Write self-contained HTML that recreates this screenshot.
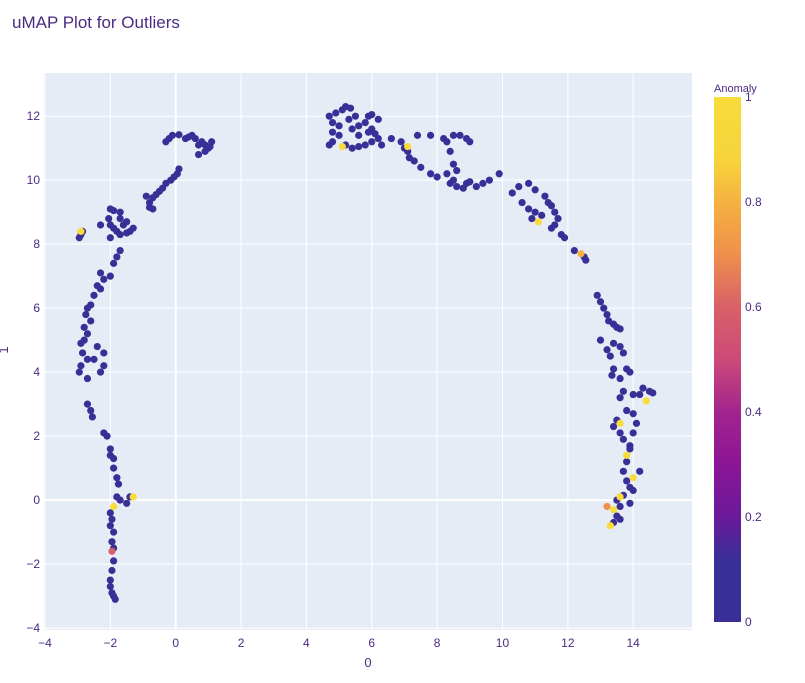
<!DOCTYPE html>
<html><head><meta charset="utf-8"><style>
body{margin:0;background:#fff;}
svg text{font-family:"Liberation Sans",sans-serif;fill:#4b2a82;}
</style></head><body>
<svg id="chart" width="805" height="678" xmlns="http://www.w3.org/2000/svg">
<defs>
<linearGradient id="plasma" x1="0" y1="1" x2="0" y2="0">
<stop offset="0" stop-color="#3a2f97"/><stop offset="0.12" stop-color="#3a2f97"/>
<stop offset="0.2" stop-color="#6a1a9a"/><stop offset="0.3" stop-color="#8b1596"/>
<stop offset="0.4" stop-color="#a3248e"/><stop offset="0.5" stop-color="#cc4a78"/>
<stop offset="0.6" stop-color="#d96068"/><stop offset="0.7" stop-color="#ef8f4c"/>
<stop offset="0.8" stop-color="#f5b240"/><stop offset="0.88" stop-color="#f6d43a"/>
<stop offset="1" stop-color="#f7dc3a"/>
</linearGradient>
</defs>
<text x="12" y="28" font-size="17">uMAP Plot for Outliers</text>
<rect x="44" y="73" width="648" height="557" fill="#e5ecf6"/>
<g id="grid"></g>
<g id="pts"></g>
<g id="ticks"></g>
<text x="368" y="667" font-size="13" text-anchor="middle">0</text>
<text x="8" y="350" font-size="13" text-anchor="middle" transform="rotate(-90 8 350)">1</text>
<text x="714" y="92" font-size="11">Anomaly</text>
<rect x="714" y="97" width="27" height="525" fill="url(#plasma)"/>
<g id="cbticks"></g>
</svg>
<script>
const xTicks=[-4,-2,0,2,4,6,8,10,12,14];
const yTicks=[-4,-2,0,2,4,6,8,10,12];
const cbTicks=[0,0.2,0.4,0.6,0.8,1];
const ptsX=[0.3,0.5,0.4,-0.3,-0.2,-0.1,0.1,0.6,0.7,0.8,0.9,1.0,1.1,0.9,0.7,1.05,0.1,0.05,-0.05,-0.15,-0.3,-0.4,-0.5,-0.6,-0.7,-0.8,-0.8,-0.9,-0.7,
-2.9,-2.85,-2.95,-2.0,-1.9,-1.7,-2.05,-2.0,-1.9,-1.8,-1.7,-1.5,-1.4,-1.3,-1.6,-1.5,-2.3,-2.0,-1.7,
-1.7,-1.8,-1.9,-2.0,-2.2,-2.3,-2.4,-2.3,-2.5,-2.6,-2.7,-2.75,-2.6,-2.8,-2.7,-2.8,-2.9,-2.85,-2.7,-2.9,-2.95,-2.7,-2.5,-2.4,-2.2,-2.2,-2.3,
-2.7,-2.6,-2.55,-2.2,-2.1,-2.0,-2.0,-1.9,-1.9,-1.8,-1.75,
-1.8,-1.7,-1.4,-1.5,-2.0,-1.95,-2.0,-1.9,-1.95,-1.9,-1.9,-1.95,-2.0,-2.0,-1.95,-1.9,-1.85,
4.7,4.8,4.9,5.1,5.2,5.35,5.5,5.3,5.0,5.4,5.6,5.8,5.9,6.0,6.2,5.6,5.9,6.1,4.8,5.0,4.7,4.8,5.2,5.4,5.6,5.8,6.0,6.2,6.0,6.3,6.6,6.9,7.0,7.1,7.15,7.3,7.5,7.8,8.0,7.4,7.8,8.2,8.3,8.5,8.7,8.9,9.0,8.4,8.5,8.6,8.5,8.4,8.6,8.9,9.0,8.3,8.8,9.2,9.4,9.6,9.9,10.3,
10.5,10.8,11.0,11.3,11.4,10.6,10.8,11.0,11.5,11.6,11.7,11.6,11.2,10.9,11.5,11.8,11.9,12.2,12.5,12.55,
12.9,13.0,13.1,13.2,13.25,13.4,13.5,13.6,13.0,13.4,13.6,13.7,13.2,13.3,13.4,13.35,13.6,13.8,13.9,
13.6,13.7,14.0,14.3,14.5,14.6,14.2,14.0,13.8,14.1,13.4,13.5,13.6,13.7,13.9,14.0,13.9,
13.8,13.7,14.2,13.8,13.9,14.0,13.7,13.6,13.5,13.9,13.6,13.4,13.5,
-2.9,-1.3,-1.9,-1.95,5.1,7.1,11.1,12.4,14.4,13.3,13.4,13.6,13.8,13.6,14.0,13.2];
const ptsY=[11.3,11.4,11.35,11.2,11.3,11.4,11.42,11.3,11.1,11.2,11.1,11.0,11.2,10.9,10.8,11.05,10.35,10.2,10.1,10.0,9.9,9.75,9.65,9.55,9.45,9.3,9.15,9.5,9.1,
8.3,8.4,8.2,9.1,9.05,9.0,8.8,8.6,8.5,8.4,8.3,8.35,8.4,8.5,8.6,8.7,8.6,8.2,8.8,
7.8,7.6,7.4,7.0,6.9,7.1,6.7,6.6,6.4,6.1,6.0,5.8,5.6,5.4,5.2,5.0,4.9,4.6,4.4,4.2,4.0,3.8,4.4,4.8,4.6,4.2,4.0,
3.0,2.8,2.6,2.1,2.0,1.6,1.4,1.3,1.0,0.7,0.5,
0.1,0.0,0.1,-0.1,-0.4,-0.6,-0.8,-1.0,-1.3,-1.5,-1.9,-2.2,-2.5,-2.7,-2.9,-3.0,-3.1,
12.0,11.8,12.1,12.2,12.3,12.25,12.0,11.9,11.7,11.6,11.7,11.8,12.0,12.05,11.9,11.4,11.5,11.45,11.5,11.4,11.1,11.2,11.1,11.0,11.05,11.1,11.2,11.3,11.6,11.1,11.3,11.2,11.0,10.9,10.7,10.6,10.4,10.2,10.1,11.4,11.4,11.3,11.2,11.4,11.4,11.3,11.2,10.9,10.5,10.3,10.0,9.9,9.8,9.9,9.95,10.2,9.75,9.8,9.9,10.0,10.2,9.6,
9.8,9.9,9.7,9.5,9.3,9.3,9.1,9.0,9.2,9.0,8.8,8.6,8.9,8.8,8.5,8.3,8.2,7.8,7.6,7.5,
6.4,6.2,6.0,5.8,5.6,5.5,5.4,5.35,5.0,4.9,4.8,4.6,4.7,4.5,4.1,3.9,3.8,4.1,4.0,
3.2,3.4,3.3,3.5,3.4,3.35,3.3,2.7,2.8,2.4,2.3,2.5,2.1,1.9,1.7,2.1,1.6,
1.2,0.9,0.9,0.6,0.4,0.3,0.15,-0.2,0.0,-0.1,-0.6,-0.7,-0.5,
8.4,0.1,-0.2,-1.6,11.05,11.05,8.7,7.7,3.1,-0.8,-0.3,0.1,1.4,2.4,0.7,-0.2];
const ptsAnom=ptsX.map((_,i)=>i<ptsX.length-16?0:1);
const anomOverride=[0,0,0,0.6,0,0,0,0.8,0,0,0,0,0,0,0,0.7];
</script>
<script>
const NS="http://www.w3.org/2000/svg";
const X0=44,X1=692,Y0=73,Y1=630;
const xmin=-4.03,xmax=15.8,ymin=-4.06,ymax=13.35;
function sx(v){return X0+(v-xmin)/(xmax-xmin)*(X1-X0);}
function sy(v){return Y1-(v-ymin)/(ymax-ymin)*(Y1-Y0);}
function cb(v){return 622-v*525;}
function col(a){const s=[[0,"#3a2f97"],[0.3,"#8b1596"],[0.5,"#cc4a78"],[0.6,"#d96068"],[0.7,"#ef8f4c"],[0.8,"#f5b240"],[1,"#f7dc3a"]];let c=s[0][1];for(const [t,h] of s){if(a>=t)c=h;}return c;}
const g=document.getElementById('grid'),tk=document.getElementById('ticks'),pts=document.getElementById('pts'),cbt=document.getElementById('cbticks');
xTicks.forEach(t=>{
 const l=document.createElementNS(NS,'line');
 
 
 l.setAttribute('x1',sx(t));l.setAttribute('x2',sx(t));l.setAttribute('y1',Y0);l.setAttribute('y2',Y1);
 l.setAttribute('stroke','#fff');l.setAttribute('stroke-width',t===0?2:1);g.appendChild(l);
 const tx=document.createElementNS(NS,'text');
 
 
 tx.setAttribute('x',sx(t));tx.setAttribute('y',647);tx.setAttribute('font-size','12');tx.setAttribute('text-anchor','middle');
 tx.textContent=t<0?'\u2212'+(-t):t;tk.appendChild(tx);
});
yTicks.forEach(t=>{
 const l=document.createElementNS(NS,'line');
 
 
 l.setAttribute('y1',sy(t));l.setAttribute('y2',sy(t));l.setAttribute('x1',X0);l.setAttribute('x2',X1);
 l.setAttribute('stroke','#fff');l.setAttribute('stroke-width',t===0?2:1);g.appendChild(l);
 const tx=document.createElementNS(NS,'text');
 
 
 tx.setAttribute('x',40);tx.setAttribute('y',sy(t)+4);tx.setAttribute('font-size','12');tx.setAttribute('text-anchor','end');
 tx.textContent=t<0?'\u2212'+(-t):t;tk.appendChild(tx);
});
ptsX.forEach((x,i)=>{
 let a=ptsAnom[i];const k=i-(ptsX.length-16);if(k>=0&&anomOverride[k])a=anomOverride[k];
 const c=document.createElementNS(NS,'circle');
 
 
 c.setAttribute('cx',sx(x));c.setAttribute('cy',sy(ptsY[i]));c.setAttribute('r',3.6);
 c.setAttribute('fill',col(a));pts.appendChild(c);
});
cbTicks.forEach(t=>{
 const tx=document.createElementNS(NS,'text');
 
 
 tx.setAttribute('x',745);tx.setAttribute('y',cb(t)+4);tx.setAttribute('font-size','12');
 tx.textContent=t;cbt.appendChild(tx);
});
</script>
</body></html>
